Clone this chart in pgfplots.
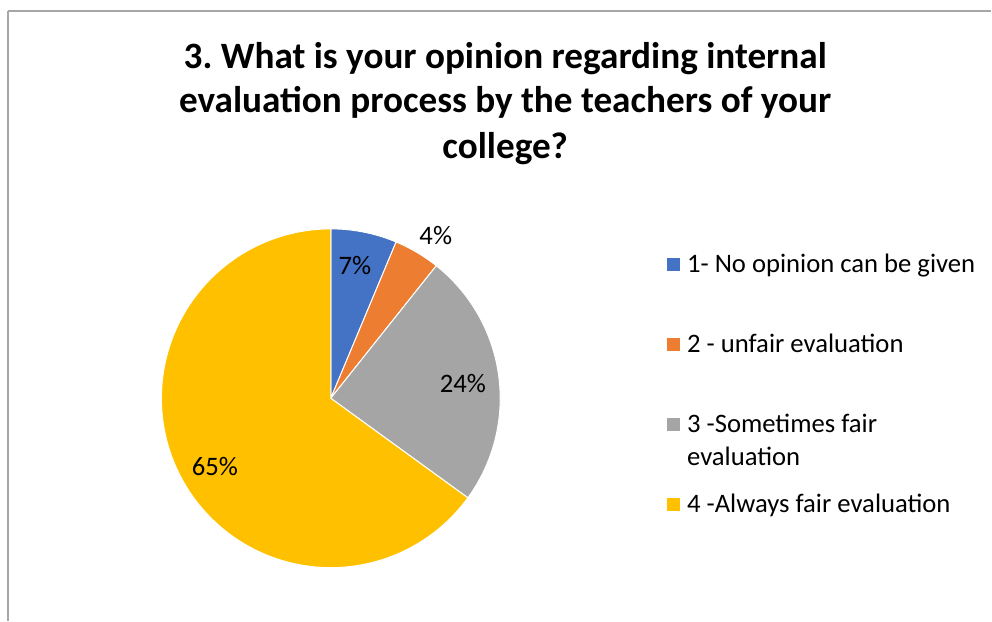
\documentclass[border=0pt]{standalone}
\usepackage{pgfplots}
\pgfplotsset{compat=1.18}
\usepgfplotslibrary{polar}
\usepackage{pgfplotstable}
\usepackage{fontspec}
\setmainfont{Carlito}
\frenchspacing
\definecolor{cA}{HTML}{4472C4}
\definecolor{cB}{HTML}{ED7D31}
\definecolor{cC}{HTML}{A5A5A5}
\definecolor{cD}{HTML}{FFC000}
\definecolor{bordergray}{HTML}{A6A6A6}
% share of each answer (percent)
\pgfplotstableread{
id value
1  6.3
2  4.4
3  24.3
4  65.0
}\piedata
\pgfplotstablegetelem{0}{value}\of\piedata \let\vA\pgfplotsretval
\pgfplotstablegetelem{1}{value}\of\piedata \let\vB\pgfplotsretval
\pgfplotstablegetelem{2}{value}\of\piedata \let\vC\pgfplotsretval
\pgfplotstablegetelem{3}{value}\of\piedata \let\vD\pgfplotsretval
% slices run clockwise from 12 o'clock
\pgfmathsetmacro\aA{90}
\pgfmathsetmacro\aB{\aA-3.6*\vA}
\pgfmathsetmacro\aC{\aB-3.6*\vB}
\pgfmathsetmacro\aD{\aC-3.6*\vC}
\pgfmathsetmacro\aE{\aD-3.6*\vD}
\newcommand\lblfont{\fontsize{20}{24.75}\selectfont}
\begin{document}
\begin{tikzpicture}
\path (0pt,0pt) rectangle (744pt,465.75pt);
\draw[bordergray, line width=1.5pt] (6pt,0pt) -- (6pt,457.5pt);
\draw[bordergray, line width=0.9pt] (6pt,457.5pt) -- (744pt,457.5pt);
\begin{scope}[every node/.style={font=\fontsize{27.9}{33.75}\selectfont\bfseries, anchor=base, inner sep=0pt}]
\node at (379.125pt,414pt) {3. What is your opinion regarding internal};
\node at (379.125pt,381pt) {evaluation process by the teachers of your};
\node at (379.125pt,346.5pt) {college?};
\end{scope}
\begin{polaraxis}[
  at={(248.25pt,166.875pt)}, anchor=center,
  width=254.25pt, height=254.25pt, scale only axis,
  hide axis, clip=false,
  xmin=0, xmax=360, ymin=0, ymax=1,
  legend image code/.code={%
    \path[#1, draw=none] (0pt,-4.9pt) rectangle (9.75pt,4.9pt);
    \path (15pt,0pt);},
  legend cell align=left,
  legend style={draw=none, fill=none, at={(252pt,111.9pt)}, anchor=north west,
    inner sep=0pt, outer sep=0pt, row sep=37.2pt, column sep=0pt,
    font=\lblfont,
    nodes={inner sep=0pt, outer sep=0pt, text height=17.8pt, text depth=5pt}},
]
\addplot[fill=cA, draw=white, line width=0.75pt, domain=\aB:\aA, samples=40] {1} -- (axis cs:0,0) -- cycle;
\addlegendentry{1- No opinion can be given}
\addplot[fill=cB, draw=white, line width=0.75pt, domain=\aC:\aB, samples=20] {1} -- (axis cs:0,0) -- cycle;
\addlegendentry{2 - unfair evaluation}
\addplot[fill=cC, draw=white, line width=0.75pt, domain=\aD:\aC, samples=80] {1} -- (axis cs:0,0) -- cycle;
\addlegendentry{\smash{\begin{tabular}[t]{@{}l@{}}3 -Sometimes fair\\evaluation\end{tabular}}}
\addplot[fill=cD, draw=white, line width=0.75pt, domain=\aE:\aD, samples=180] {1} -- (axis cs:0,0) -- cycle;
\addlegendentry{4 -Always fair evaluation}
\begin{scope}[every node/.style={font=\lblfont, inner sep=0pt, anchor=center}]
\node at (axis cs:79.7,0.795) {7\%};
\node at (axis cs:57.2,1.144) {4\%};
\node at (axis cs:6.25,0.785) {24\%};
\node at (axis cs:210.6,0.795) {65\%};
\end{scope}
\end{polaraxis}
\end{tikzpicture}
\end{document}
